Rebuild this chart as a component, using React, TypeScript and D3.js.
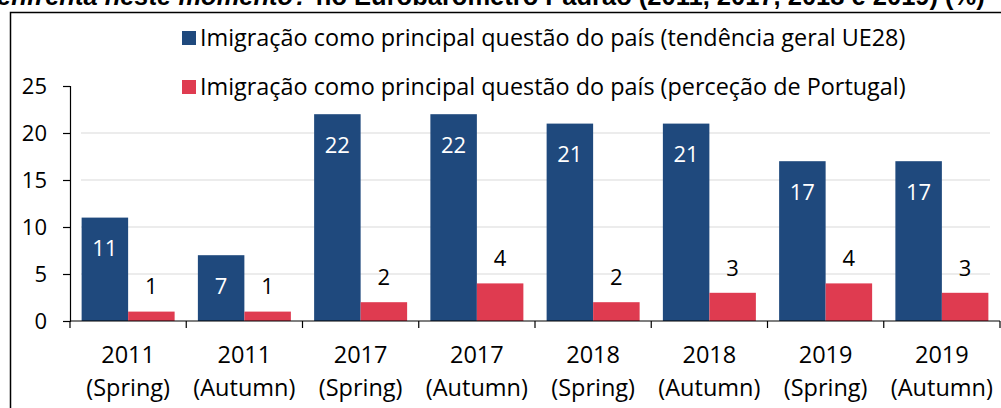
import React, { useEffect, useRef } from 'react';
import * as d3 from 'd3';

const categories = ['2011|(Spring)', '2011|(Autumn)', '2017|(Spring)', '2017|(Autumn)', '2018|(Spring)', '2018|(Autumn)', '2019|(Spring)', '2019|(Autumn)'];
const euValues = [11, 7, 22, 22, 21, 21, 17, 17];
const ptValues = [1, 1, 2, 4, 2, 3, 4, 3];
const seriesNames = [
  'Imigração como principal questão do país (tendência geral UE28)',
  'Imigração como principal questão do país (perceção de Portugal)',
];
const yTicks = [0, 5, 10, 15, 20, 25];
const titleItalic = 'enfrenta neste momento?';
const titleRest = ' no Eurobarómetro Padrão (2011, 2017, 2018 e 2019) (%)';

const W = 1001;
const H = 408;
const BLUE = '#1F497D';
const RED = '#DF3B50';
const FONT = '"Open Sans", sans-serif';

export default function App() {
  const ref = useRef<SVGSVGElement>(null);

  useEffect(() => {
    const svg = d3.select(ref.current);
    svg.selectAll('*').remove();

    // title cut by the top edge, as in the source + frame
    const title = svg.append('text')
      .attr('x', -3).attr('y', 5)
      .attr('font-family', '"Liberation Sans", Arial, sans-serif')
      .attr('font-weight', 'bold')
      .attr('font-size', 25.5)
      .attr('fill', '#000');
    title.append('tspan').attr('font-style', 'italic').text(titleItalic);
    title.append('tspan').text(titleRest);

    svg.append('path')
      .attr('d', `M10.5,${H + 2} V12.5 H${W + 2}`)
      .attr('fill', 'none')
      .attr('stroke', '#000')
      .attr('stroke-width', 1.5);

    const x0 = d3.scaleBand<string>().domain(categories).range([70, 1000]).padding(0);
    const x1 = d3.scaleBand<string>().domain(['eu', 'pt']).range([0, x0.bandwidth()])
      .paddingInner(0).paddingOuter(0.25);
    const y = d3.scaleLinear().domain([0, 25]).range([321, 86]);

    // gridlines
    svg.append('g').selectAll('line')
      .data(yTicks.filter(t => t > 0 && t < 25))
      .join('line')
      .attr('x1', 81).attr('x2', 990)
      .attr('y1', d => y(d)).attr('y2', d => y(d))
      .attr('stroke', '#d9d9d9').attr('stroke-width', 1);

    // bars
    const groups = svg.append('g').selectAll('g')
      .data(categories.map((c, i) => ({ c, eu: euValues[i], pt: ptValues[i] })))
      .join('g')
      .attr('transform', d => `translate(${x0(d.c)},0)`);

    groups.append('rect')
      .attr('x', x1('eu')!).attr('width', x1.bandwidth())
      .attr('y', d => y(d.eu)).attr('height', d => y(0) - y(d.eu))
      .attr('fill', BLUE);
    groups.append('rect')
      .attr('x', x1('pt')!).attr('width', x1.bandwidth())
      .attr('y', d => y(d.pt)).attr('height', d => y(0) - y(d.pt))
      .attr('fill', RED);

    groups.append('text')
      .attr('x', x1('eu')! + x1.bandwidth() / 2)
      .attr('y', d => y(d.eu) + 31)
      .attr('dy', '0.35em')
      .attr('text-anchor', 'middle')
      .attr('font-family', FONT).attr('font-size', 22)
      .attr('fill', '#fff')
      .text(d => d.eu);
    groups.append('text')
      .attr('x', x1('pt')! + x1.bandwidth() / 2)
      .attr('y', d => y(d.pt) - 25)
      .attr('dy', '0.35em')
      .attr('text-anchor', 'middle')
      .attr('font-family', FONT).attr('font-size', 22)
      .attr('fill', '#000')
      .text(d => d.pt);

    // y axis
    const yAxis = svg.append('g')
      .attr('transform', 'translate(70,0)')
      .call(d3.axisLeft(y).tickValues(yTicks).tickSize(7).tickPadding(16));
    yAxis.select('.domain').attr('stroke', '#000').attr('stroke-width', 1.2);
    yAxis.selectAll('.tick line').attr('stroke', '#000').attr('stroke-width', 1.2);
    yAxis.selectAll('.tick text')
      .attr('font-family', FONT).attr('font-size', 22).attr('fill', '#000');

    // x axis
    const xAxis = svg.append('g')
      .attr('transform', `translate(0,${y(0)})`)
      .call(d3.axisBottom(x0).tickSize(0).tickFormat(() => ''));
    xAxis.select('.domain').attr('stroke', '#000').attr('stroke-width', 1.2)
      .attr('d', 'M70,0H1000');
    svg.append('g').selectAll('line')
      .data([...categories.map(c => x0(c)!), 1000])
      .join('line')
      .attr('x1', d => d).attr('x2', d => d)
      .attr('y1', y(0)).attr('y2', y(0) + 7)
      .attr('stroke', '#000').attr('stroke-width', 1.2);

    const catLabels = svg.append('g').selectAll('text')
      .data(categories)
      .join('text')
      .attr('text-anchor', 'middle')
      .attr('font-family', FONT).attr('font-size', 23.5).attr('fill', '#000');
    catLabels.append('tspan')
      .attr('x', d => x0(d)! + x0.bandwidth() / 2).attr('y', 355).attr('dy', '0.35em')
      .text(d => d.split('|')[0]);
    catLabels.append('tspan')
      .attr('x', d => x0(d)! + x0.bandwidth() / 2).attr('y', 388).attr('dy', '0.35em')
      .text(d => d.split('|')[1]);

    // legend
    const legend = svg.append('g').selectAll('g')
      .data(seriesNames.map((n, i) => ({ n, c: i === 0 ? BLUE : RED, yy: i === 0 ? 38 : 87 })))
      .join('g');
    legend.append('rect')
      .attr('x', 182).attr('y', d => d.yy - 7).attr('width', 14).attr('height', 14)
      .attr('fill', d => d.c);
    legend.append('text')
      .attr('x', 200).attr('y', d => d.yy).attr('dy', '0.35em')
      .attr('font-family', FONT).attr('font-size', 23.4).attr('fill', '#000')
      .text(d => d.n);
  }, []);

  return (
    <div style={{ position: 'absolute', left: 0, top: 0, width: W, height: H, background: '#fff' }}>
      <svg ref={ref} width={W} height={H} style={{ display: 'block' }} />
    </div>
  );
}
